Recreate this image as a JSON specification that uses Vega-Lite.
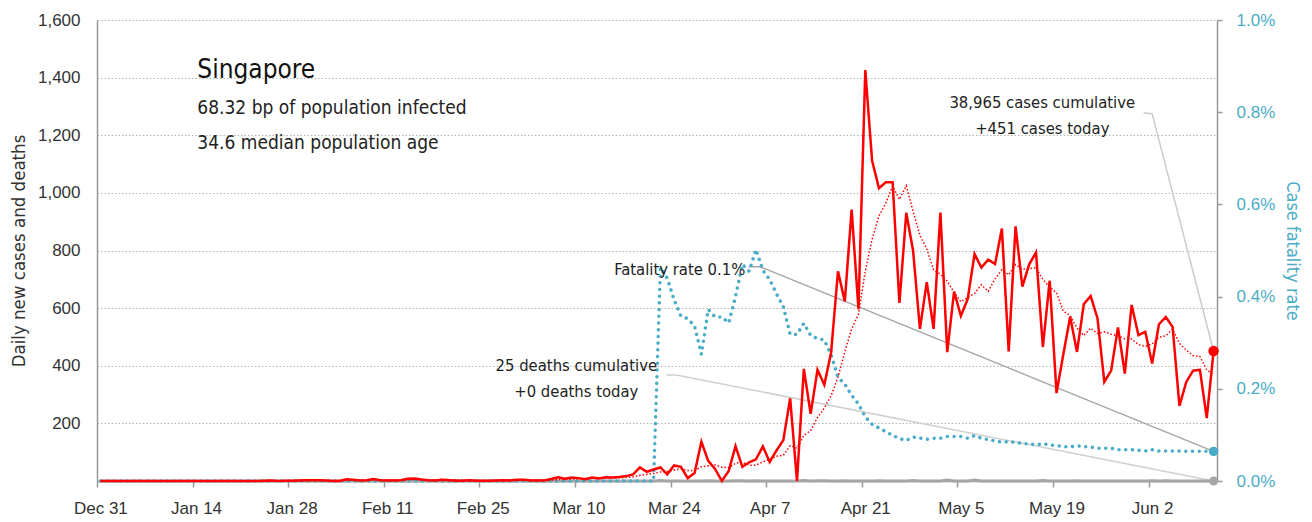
{
"$schema":"https://vega.github.io/schema/vega-lite/v6.json",
"width":1120,"height":461,
"autosize":{"type":"none"},
"padding":{"left":97,"top":20,"right":95,"bottom":41},
"background":"white",
"config":{"view":{"stroke":null},"font":"Liberation Sans"},
"datasets":{
"main":[
{"date":"2019-12-31","cases":0,"avg7":0,"cfr":0,"deaths":0},
{"date":"2020-01-01","cases":0,"avg7":0,"cfr":0,"deaths":0},
{"date":"2020-01-02","cases":0,"avg7":0,"cfr":0,"deaths":0},
{"date":"2020-01-03","cases":0,"avg7":0,"cfr":0,"deaths":0},
{"date":"2020-01-04","cases":0,"avg7":0,"cfr":0,"deaths":0},
{"date":"2020-01-05","cases":0,"avg7":0,"cfr":0,"deaths":0},
{"date":"2020-01-06","cases":0,"avg7":0,"cfr":0,"deaths":0},
{"date":"2020-01-07","cases":0,"avg7":0,"cfr":0,"deaths":0},
{"date":"2020-01-08","cases":0,"avg7":0,"cfr":0,"deaths":0},
{"date":"2020-01-09","cases":0,"avg7":0,"cfr":0,"deaths":0},
{"date":"2020-01-10","cases":0,"avg7":0,"cfr":0,"deaths":0},
{"date":"2020-01-11","cases":0,"avg7":0,"cfr":0,"deaths":0},
{"date":"2020-01-12","cases":0,"avg7":0,"cfr":0,"deaths":0},
{"date":"2020-01-13","cases":0,"avg7":0,"cfr":0,"deaths":0},
{"date":"2020-01-14","cases":0,"avg7":0,"cfr":0,"deaths":0},
{"date":"2020-01-15","cases":0,"avg7":0,"cfr":0,"deaths":0},
{"date":"2020-01-16","cases":0,"avg7":0,"cfr":0,"deaths":0},
{"date":"2020-01-17","cases":0,"avg7":0,"cfr":0,"deaths":0},
{"date":"2020-01-18","cases":0,"avg7":0,"cfr":0,"deaths":0},
{"date":"2020-01-19","cases":0,"avg7":0,"cfr":0,"deaths":0},
{"date":"2020-01-20","cases":0,"avg7":0,"cfr":0,"deaths":0},
{"date":"2020-01-21","cases":0,"avg7":0,"cfr":0,"deaths":0},
{"date":"2020-01-22","cases":0,"avg7":0,"cfr":0,"deaths":0},
{"date":"2020-01-23","cases":0,"avg7":0,"cfr":0,"deaths":0},
{"date":"2020-01-24","cases":1,"avg7":0.1,"cfr":0,"deaths":0},
{"date":"2020-01-25","cases":2,"avg7":0.4,"cfr":0,"deaths":0},
{"date":"2020-01-26","cases":0,"avg7":0.4,"cfr":0,"deaths":0},
{"date":"2020-01-27","cases":1,"avg7":0.6,"cfr":0,"deaths":0},
{"date":"2020-01-28","cases":1,"avg7":0.7,"cfr":0,"deaths":0},
{"date":"2020-01-29","cases":2,"avg7":1.0,"cfr":0,"deaths":0},
{"date":"2020-01-30","cases":3,"avg7":1.4,"cfr":0,"deaths":0},
{"date":"2020-01-31","cases":3,"avg7":1.7,"cfr":0,"deaths":0},
{"date":"2020-02-01","cases":3,"avg7":1.9,"cfr":0,"deaths":0},
{"date":"2020-02-02","cases":2,"avg7":2.1,"cfr":0,"deaths":0},
{"date":"2020-02-03","cases":0,"avg7":2.0,"cfr":0,"deaths":0},
{"date":"2020-02-04","cases":0,"avg7":1.9,"cfr":0,"deaths":0},
{"date":"2020-02-05","cases":6,"avg7":2.4,"cfr":0,"deaths":0},
{"date":"2020-02-06","cases":4,"avg7":2.6,"cfr":0,"deaths":0},
{"date":"2020-02-07","cases":2,"avg7":2.4,"cfr":0,"deaths":0},
{"date":"2020-02-08","cases":3,"avg7":2.4,"cfr":0,"deaths":0},
{"date":"2020-02-09","cases":7,"avg7":3.1,"cfr":0,"deaths":0},
{"date":"2020-02-10","cases":3,"avg7":3.6,"cfr":0,"deaths":0},
{"date":"2020-02-11","cases":2,"avg7":3.9,"cfr":0,"deaths":0},
{"date":"2020-02-12","cases":2,"avg7":3.3,"cfr":0,"deaths":0},
{"date":"2020-02-13","cases":3,"avg7":3.1,"cfr":0,"deaths":0},
{"date":"2020-02-14","cases":8,"avg7":4.0,"cfr":0,"deaths":0},
{"date":"2020-02-15","cases":9,"avg7":4.9,"cfr":0,"deaths":0},
{"date":"2020-02-16","cases":5,"avg7":4.6,"cfr":0,"deaths":0},
{"date":"2020-02-17","cases":3,"avg7":4.6,"cfr":0,"deaths":0},
{"date":"2020-02-18","cases":2,"avg7":4.6,"cfr":0,"deaths":0},
{"date":"2020-02-19","cases":4,"avg7":4.9,"cfr":0,"deaths":0},
{"date":"2020-02-20","cases":3,"avg7":4.9,"cfr":0,"deaths":0},
{"date":"2020-02-21","cases":1,"avg7":3.9,"cfr":0,"deaths":0},
{"date":"2020-02-22","cases":1,"avg7":2.7,"cfr":0,"deaths":0},
{"date":"2020-02-23","cases":3,"avg7":2.4,"cfr":0,"deaths":0},
{"date":"2020-02-24","cases":1,"avg7":2.1,"cfr":0,"deaths":0},
{"date":"2020-02-25","cases":1,"avg7":2.0,"cfr":0,"deaths":0},
{"date":"2020-02-26","cases":1,"avg7":1.6,"cfr":0,"deaths":0},
{"date":"2020-02-27","cases":2,"avg7":1.4,"cfr":0,"deaths":0},
{"date":"2020-02-28","cases":3,"avg7":1.7,"cfr":0,"deaths":0},
{"date":"2020-02-29","cases":2,"avg7":1.9,"cfr":0,"deaths":0},
{"date":"2020-03-01","cases":4,"avg7":2.0,"cfr":0,"deaths":0},
{"date":"2020-03-02","cases":4,"avg7":2.4,"cfr":0,"deaths":0},
{"date":"2020-03-03","cases":2,"avg7":2.6,"cfr":0,"deaths":0},
{"date":"2020-03-04","cases":2,"avg7":2.7,"cfr":0,"deaths":0},
{"date":"2020-03-05","cases":2,"avg7":2.7,"cfr":0,"deaths":0},
{"date":"2020-03-06","cases":7,"avg7":3.3,"cfr":0,"deaths":0},
{"date":"2020-03-07","cases":13,"avg7":4.9,"cfr":0,"deaths":0},
{"date":"2020-03-08","cases":8,"avg7":5.4,"cfr":0,"deaths":0},
{"date":"2020-03-09","cases":12,"avg7":6.6,"cfr":0,"deaths":0},
{"date":"2020-03-10","cases":10,"avg7":7.7,"cfr":0,"deaths":0},
{"date":"2020-03-11","cases":6,"avg7":8.3,"cfr":0,"deaths":0},
{"date":"2020-03-12","cases":12,"avg7":9.7,"cfr":0,"deaths":0},
{"date":"2020-03-13","cases":9,"avg7":10.0,"cfr":0,"deaths":0},
{"date":"2020-03-14","cases":13,"avg7":10.0,"cfr":0,"deaths":0},
{"date":"2020-03-15","cases":12,"avg7":10.6,"cfr":0,"deaths":0},
{"date":"2020-03-16","cases":14,"avg7":10.9,"cfr":0,"deaths":0},
{"date":"2020-03-17","cases":17,"avg7":11.9,"cfr":0,"deaths":0},
{"date":"2020-03-18","cases":23,"avg7":14.3,"cfr":0,"deaths":0},
{"date":"2020-03-19","cases":47,"avg7":19.3,"cfr":0,"deaths":0},
{"date":"2020-03-20","cases":32,"avg7":22.6,"cfr":0,"deaths":0},
{"date":"2020-03-21","cases":40,"avg7":26.4,"cfr":0,"deaths":0},
{"date":"2020-03-22","cases":47,"avg7":31.4,"cfr":0.00463,"deaths":2},
{"date":"2020-03-23","cases":23,"avg7":32.7,"cfr":0.0044,"deaths":0},
{"date":"2020-03-24","cases":54,"avg7":38.0,"cfr":0.00393,"deaths":0},
{"date":"2020-03-25","cases":49,"avg7":41.7,"cfr":0.00358,"deaths":0},
{"date":"2020-03-26","cases":10,"avg7":36.4,"cfr":0.00352,"deaths":0},
{"date":"2020-03-27","cases":28,"avg7":35.9,"cfr":0.00336,"deaths":0},
{"date":"2020-03-28","cases":136,"avg7":49.6,"cfr":0.00275,"deaths":0},
{"date":"2020-03-29","cases":70,"avg7":52.9,"cfr":0.00372,"deaths":1},
{"date":"2020-03-30","cases":42,"avg7":55.6,"cfr":0.00356,"deaths":0},
{"date":"2020-03-31","cases":0,"avg7":47.9,"cfr":0.00356,"deaths":0},
{"date":"2020-04-01","cases":35,"avg7":45.9,"cfr":0.00343,"deaths":0},
{"date":"2020-04-02","cases":121,"avg7":61.7,"cfr":0.004,"deaths":1},
{"date":"2020-04-03","cases":49,"avg7":64.7,"cfr":0.0047,"deaths":1},
{"date":"2020-04-04","cases":65,"avg7":54.6,"cfr":0.00455,"deaths":0},
{"date":"2020-04-05","cases":75,"avg7":55.3,"cfr":0.00502,"deaths":1},
{"date":"2020-04-06","cases":120,"avg7":66.4,"cfr":0.00457,"deaths":0},
{"date":"2020-04-07","cases":66,"avg7":75.9,"cfr":0.00437,"deaths":0},
{"date":"2020-04-08","cases":106,"avg7":86.0,"cfr":0.00406,"deaths":0},
{"date":"2020-04-09","cases":142,"avg7":89.0,"cfr":0.00378,"deaths":0},
{"date":"2020-04-10","cases":287,"avg7":123.0,"cfr":0.00318,"deaths":0},
{"date":"2020-04-11","cases":0,"avg7":113.7,"cfr":0.00318,"deaths":0},
{"date":"2020-04-12","cases":389,"avg7":158.6,"cfr":0.00342,"deaths":2},
{"date":"2020-04-13","cases":233,"avg7":174.7,"cfr":0.00316,"deaths":0},
{"date":"2020-04-14","cases":386,"avg7":220.4,"cfr":0.00309,"deaths":1},
{"date":"2020-04-15","cases":334,"avg7":253.0,"cfr":0.00306,"deaths":1},
{"date":"2020-04-16","cases":447,"avg7":296.6,"cfr":0.00273,"deaths":0},
{"date":"2020-04-17","cases":728,"avg7":359.6,"cfr":0.00225,"deaths":0},
{"date":"2020-04-18","cases":623,"avg7":448.6,"cfr":0.0021,"deaths":1},
{"date":"2020-04-19","cases":942,"avg7":527.6,"cfr":0.00186,"deaths":0},
{"date":"2020-04-20","cases":596,"avg7":579.4,"cfr":0.00167,"deaths":0},
{"date":"2020-04-21","cases":1426,"avg7":728.0,"cfr":0.00139,"deaths":0},
{"date":"2020-04-22","cases":1111,"avg7":839.0,"cfr":0.00123,"deaths":0},
{"date":"2020-04-23","cases":1016,"avg7":920.3,"cfr":0.00115,"deaths":1},
{"date":"2020-04-24","cases":1037,"avg7":964.4,"cfr":0.00107,"deaths":0},
{"date":"2020-04-25","cases":1037,"avg7":1023.6,"cfr":0.00099,"deaths":0},
{"date":"2020-04-26","cases":618,"avg7":977.3,"cfr":0.00092,"deaths":0},
{"date":"2020-04-27","cases":931,"avg7":1025.1,"cfr":0.00088,"deaths":0},
{"date":"2020-04-28","cases":799,"avg7":935.6,"cfr":0.000955,"deaths":2},
{"date":"2020-04-29","cases":528,"avg7":852.3,"cfr":0.00093,"deaths":0},
{"date":"2020-04-30","cases":690,"avg7":805.7,"cfr":0.000905,"deaths":0},
{"date":"2020-05-01","cases":528,"avg7":733.0,"cfr":0.000927,"deaths":0},
{"date":"2020-05-02","cases":932,"avg7":718.0,"cfr":0.000927,"deaths":0},
{"date":"2020-05-03","cases":447,"avg7":693.6,"cfr":0.000963,"deaths":3},
{"date":"2020-05-04","cases":657,"avg7":654.4,"cfr":0.000963,"deaths":0},
{"date":"2020-05-05","cases":573,"avg7":622.1,"cfr":0.000963,"deaths":0},
{"date":"2020-05-06","cases":632,"avg7":637.0,"cfr":0.000927,"deaths":0},
{"date":"2020-05-07","cases":788,"avg7":651.0,"cfr":0.000985,"deaths":3},
{"date":"2020-05-08","cases":741,"avg7":681.4,"cfr":0.000927,"deaths":0},
{"date":"2020-05-09","cases":768,"avg7":658.0,"cfr":0.0009,"deaths":0},
{"date":"2020-05-10","cases":753,"avg7":701.7,"cfr":0.00087,"deaths":0},
{"date":"2020-05-11","cases":876,"avg7":733.0,"cfr":0.00084,"deaths":0},
{"date":"2020-05-12","cases":450,"avg7":715.4,"cfr":0.000854,"deaths":0},
{"date":"2020-05-13","cases":884,"avg7":751.4,"cfr":0.00084,"deaths":0},
{"date":"2020-05-14","cases":675,"avg7":735.3,"cfr":0.00081,"deaths":0},
{"date":"2020-05-15","cases":752,"avg7":736.9,"cfr":0.00081,"deaths":0},
{"date":"2020-05-16","cases":793,"avg7":740.4,"cfr":0.00078,"deaths":0},
{"date":"2020-05-17","cases":465,"avg7":699.3,"cfr":0.00081,"deaths":2},
{"date":"2020-05-18","cases":695,"avg7":673.4,"cfr":0.00078,"deaths":0},
{"date":"2020-05-19","cases":305,"avg7":652.7,"cfr":0.00077,"deaths":0},
{"date":"2020-05-20","cases":440,"avg7":589.3,"cfr":0.000746,"deaths":0},
{"date":"2020-05-21","cases":570,"avg7":574.3,"cfr":0.000738,"deaths":0},
{"date":"2020-05-22","cases":448,"avg7":530.9,"cfr":0.000768,"deaths":1},
{"date":"2020-05-23","cases":614,"avg7":505.3,"cfr":0.000746,"deaths":0},
{"date":"2020-05-24","cases":642,"avg7":530.6,"cfr":0.000738,"deaths":0},
{"date":"2020-05-25","cases":565,"avg7":512.0,"cfr":0.00071,"deaths":0},
{"date":"2020-05-26","cases":344,"avg7":517.6,"cfr":0.00071,"deaths":0},
{"date":"2020-05-27","cases":383,"avg7":509.4,"cfr":0.00071,"deaths":0},
{"date":"2020-05-28","cases":533,"avg7":504.1,"cfr":0.00068,"deaths":0},
{"date":"2020-05-29","cases":373,"avg7":493.4,"cfr":0.00068,"deaths":0},
{"date":"2020-05-30","cases":611,"avg7":493.0,"cfr":0.00068,"deaths":0},
{"date":"2020-05-31","cases":506,"avg7":473.6,"cfr":0.000666,"deaths":0},
{"date":"2020-06-01","cases":518,"avg7":466.9,"cfr":0.000651,"deaths":0},
{"date":"2020-06-02","cases":408,"avg7":476.0,"cfr":0.00068,"deaths":1},
{"date":"2020-06-03","cases":544,"avg7":499.0,"cfr":0.000651,"deaths":0},
{"date":"2020-06-04","cases":569,"avg7":504.1,"cfr":0.000651,"deaths":1},
{"date":"2020-06-05","cases":535,"avg7":527.3,"cfr":0.00065,"deaths":0},
{"date":"2020-06-06","cases":261,"avg7":477.3,"cfr":0.000648,"deaths":0},
{"date":"2020-06-07","cases":344,"avg7":454.1,"cfr":0.000648,"deaths":0},
{"date":"2020-06-08","cases":383,"avg7":434.9,"cfr":0.000646,"deaths":0},
{"date":"2020-06-09","cases":386,"avg7":431.7,"cfr":0.000645,"deaths":0},
{"date":"2020-06-10","cases":218,"avg7":385.1,"cfr":0.000645,"deaths":0},
{"date":"2020-06-11","cases":451,"avg7":368.3,"cfr":0.000642,"deaths":0}
],
"ends":[{"date":"2020-06-11","cases":451,"cfr":0.000642,"deaths":0}],
"links":[
{"link":"cfr","ord":1,"date":"2020-04-03T22:00:00Z","val":744},
{"link":"cfr","ord":2,"date":"2020-04-05T13:00:00Z","val":744},
{"link":"cfr","ord":3,"date":"2020-06-11T00:00:00Z","val":102.7},
{"link":"deaths","ord":1,"date":"2020-03-22T21:00:00Z","val":368},
{"link":"deaths","ord":2,"date":"2020-03-24T08:00:00Z","val":368},
{"link":"deaths","ord":3,"date":"2020-06-11T00:00:00Z","val":0},
{"link":"cases","ord":1,"date":"2020-05-31T18:00:00Z","val":1277},
{"link":"cases","ord":2,"date":"2020-06-02T00:00:00Z","val":1275},
{"link":"cases","ord":3,"date":"2020-06-11T00:00:00Z","val":451}
],
"title":[{"date":"2020-01-14T04:30:00Z","val":1399,"text":"Singapore"}],
"subs":[
{"date":"2020-01-14T04:30:00Z","val":1275,"text":"68.32 bp of population infected"},
{"date":"2020-01-14T04:30:00Z","val":1154,"text":"34.6 median population age"}
],
"notesC":[
{"date":"2020-03-09T16:30:00Z","val":382,"text":"25 deaths cumulative"},
{"date":"2020-03-09T16:30:00Z","val":293,"text":"+0 deaths today"},
{"date":"2020-05-16T22:00:00Z","val":1295,"text":"38,965 cases cumulative"},
{"date":"2020-05-16T22:00:00Z","val":1204,"text":"+451 cases today"}
],
"notesR":[{"date":"2020-04-03T10:20:00Z","val":715,"text":"Fatality rate 0.1%"}]
},
"encoding":{
"x":{"field":"date","type":"temporal",
"scale":{"type":"utc","domain":[{"year":2019,"month":12,"date":30,"hours":12,"utc":true},{"year":2020,"month":6,"date":11,"hours":12,"utc":true}]},
"axis":{"title":null,"grid":false,
"values":[
{"year":2019,"month":12,"date":30,"hours":12,"utc":true},
{"year":2020,"month":1,"date":13,"hours":12,"utc":true},
{"year":2020,"month":1,"date":27,"hours":12,"utc":true},
{"year":2020,"month":2,"date":10,"hours":12,"utc":true},
{"year":2020,"month":2,"date":24,"hours":12,"utc":true},
{"year":2020,"month":3,"date":9,"hours":12,"utc":true},
{"year":2020,"month":3,"date":23,"hours":12,"utc":true},
{"year":2020,"month":4,"date":6,"hours":12,"utc":true},
{"year":2020,"month":4,"date":20,"hours":12,"utc":true},
{"year":2020,"month":5,"date":4,"hours":12,"utc":true},
{"year":2020,"month":5,"date":18,"hours":12,"utc":true},
{"year":2020,"month":6,"date":1,"hours":12,"utc":true}
],
"labelExpr":"utcFormat(time(datum.value) + 43200000, '%b %-d')",
"labelOffset":3.4,"labelFlush":false,"labelOverlap":false,
"tickSize":6,"tickColor":"#999999","tickWidth":1.5,
"domainColor":"#999999","domainWidth":1.5,
"labelFontSize":17,"labelColor":"#333333","labelPadding":13}}
},
"layer":[
{"data":{"name":"links"},
"mark":{"type":"line","strokeWidth":1.5},
"encoding":{
"y":{"field":"val","type":"quantitative","scale":{"domain":[0,1600],"nice":false},
"axis":{"orient":"left","values":[200,400,600,800,1000,1200,1400,1600],"format":",.0f",
"grid":true,"gridColor":"#b5b5b5","gridDash":[1.5,2],"gridWidth":1,"ticks":false,
"domainColor":"#999999","domainWidth":1.5,"labelFontSize":17,"labelColor":"#333333","labelPadding":17,
"title":"Daily new cases and deaths","titleFont":"DejaVu Sans Condensed","titleFontSize":18.5,"titleFontWeight":"normal","titleColor":"#333333","titlePadding":8.5}},
"detail":{"field":"link"},
"order":{"field":"ord"},
"color":{"field":"link","type":"nominal","scale":{"domain":["cfr","deaths","cases"],"range":["#a6a6a6","#d0d0d0","#cccccc"]},"legend":null}}},
{"data":{"name":"main"},
"mark":{"type":"line","color":"#a6a6a6","strokeWidth":3},
"encoding":{"y":{"field":"deaths","type":"quantitative","scale":{"domain":[0,1600],"nice":false},"axis":null}}},
{"data":{"name":"main"},
"mark":{"type":"line","color":"#4bacc6","strokeWidth":3.5,"strokeDash":[0.01,6.7],"strokeCap":"round"},
"encoding":{"y":{"field":"cfr","type":"quantitative","scale":{"domain":[0,0.01],"nice":false},
"axis":{"orient":"right","values":[0,0.002,0.004,0.006,0.008,0.01],"format":".1%","grid":false,
"ticks":true,"tickSize":5,"tickColor":"#999999","tickWidth":1.5,"domainColor":"#999999","domainWidth":1.5,
"labelFontSize":17,"labelColor":"#4bacc6","labelPadding":14,
"title":"Case fatality rate","titleFont":"DejaVu Sans Condensed","titleFontSize":18,"titleFontWeight":"normal","titleColor":"#4bacc6","titlePadding":8}}}},
{"data":{"name":"main"},
"mark":{"type":"line","color":"#ff0000","strokeWidth":1.5,"strokeDash":[1.5,2]},
"encoding":{"y":{"field":"avg7","type":"quantitative","scale":{"domain":[0,1600],"nice":false},"axis":null}}},
{"data":{"name":"main"},
"mark":{"type":"line","color":"#ff0000","strokeWidth":2.5},
"encoding":{"y":{"field":"cases","type":"quantitative","scale":{"domain":[0,1600],"nice":false},"axis":null}}},
{"data":{"name":"ends"},
"mark":{"type":"circle","color":"#ff0000","opacity":1,"size":110},
"encoding":{"y":{"field":"cases","type":"quantitative","scale":{"domain":[0,1600],"nice":false},"axis":null}}},
{"data":{"name":"ends"},
"mark":{"type":"circle","color":"#4bacc6","opacity":1,"size":90},
"encoding":{"y":{"field":"cfr","type":"quantitative","scale":{"domain":[0,0.01],"nice":false},"axis":null}}},
{"data":{"name":"ends"},
"mark":{"type":"circle","color":"#a6a6a6","opacity":1,"size":80},
"encoding":{"y":{"field":"deaths","type":"quantitative","scale":{"domain":[0,1600],"nice":false},"axis":null}}},
{"data":{"name":"title"},
"mark":{"type":"text","font":"DejaVu Sans Condensed","fontSize":26,"align":"left","baseline":"alphabetic","color":"#111111"},
"encoding":{"y":{"field":"val","type":"quantitative","scale":{"domain":[0,1600],"nice":false},"axis":null},"text":{"field":"text"}}},
{"data":{"name":"subs"},
"mark":{"type":"text","font":"DejaVu Sans Condensed","fontSize":19,"align":"left","baseline":"alphabetic","color":"#222222"},
"encoding":{"y":{"field":"val","type":"quantitative","scale":{"domain":[0,1600],"nice":false},"axis":null},"text":{"field":"text"}}},
{"data":{"name":"notesC"},
"mark":{"type":"text","font":"DejaVu Sans Condensed","fontSize":16.5,"align":"center","baseline":"alphabetic","color":"#222222"},
"encoding":{"y":{"field":"val","type":"quantitative","scale":{"domain":[0,1600],"nice":false},"axis":null},"text":{"field":"text"}}},
{"data":{"name":"notesR"},
"mark":{"type":"text","font":"DejaVu Sans Condensed","fontSize":16.5,"align":"right","baseline":"alphabetic","color":"#222222"},
"encoding":{"y":{"field":"val","type":"quantitative","scale":{"domain":[0,1600],"nice":false},"axis":null},"text":{"field":"text"}}}
],
"resolve":{"scale":{"y":"independent"}}
}
